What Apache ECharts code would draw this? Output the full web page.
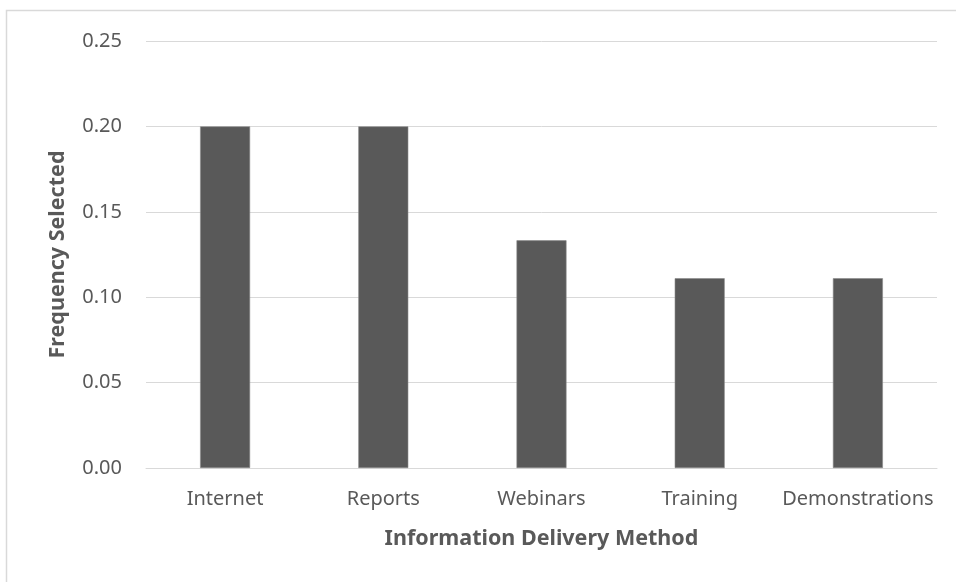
<!DOCTYPE html>
<html>
<head>
<meta charset="utf-8">
<script src="https://cdn.jsdelivr.net/npm/echarts@6/dist/echarts.min.js"></script>
<style>
html,body{margin:0;padding:0;background:#fff;}
#chart{width:956px;height:582px;}
</style>
</head>
<body>
<div id="chart"></div>
<script>
var categories = ['Internet', 'Reports', 'Webinars', 'Training', 'Demonstrations'];
var frequencies = [0.2, 0.2, 0.1333, 0.1111, 0.1111];
var yTicks = [0, 0.05, 0.10, 0.15, 0.20, 0.25];
var xTitle = 'Information Delivery Method';
var yTitle = 'Frequency Selected';

var FONT = 'Noto Sans';
var chart = echarts.init(document.getElementById('chart'));
chart.setOption({
  backgroundColor: '#ffffff',
  animation: false,
  graphic: [{
    type: 'rect',
    shape: {x: 6.5, y: 10.5, width: 1200, height: 1200},
    style: {fill: 'none', stroke: '#d9d9d9', lineWidth: 1.5},
    silent: true
  }],
  grid: {left: 146, right: 19, top: 41, bottom: 114},
  xAxis: {
    type: 'category',
    data: categories,
    name: xTitle,
    nameLocation: 'middle',
    nameGap: 60,
    nameTextStyle: {fontFamily: FONT, fontSize: 21.5, fontWeight: 'bold', color: '#595959'},
    axisLine: {show: true, lineStyle: {color: '#d9d9d9', width: 1}},
    axisTick: {show: false},
    axisLabel: {fontFamily: FONT, fontSize: 20, color: '#595959', margin: 21, interval: 0},
    splitLine: {show: false}
  },
  yAxis: {
    type: 'value',
    min: yTicks[0],
    max: yTicks[yTicks.length - 1],
    interval: 0.05,
    name: yTitle,
    nameLocation: 'middle',
    nameGap: 77,
    nameTextStyle: {fontFamily: FONT, fontSize: 21.5, fontWeight: 'bold', color: '#595959'},
    axisLine: {show: false},
    axisTick: {show: false},
    axisLabel: {
      fontFamily: FONT, fontSize: 20, color: '#595959', margin: 24,
      formatter: function (v) { return v.toFixed(2); }
    },
    splitLine: {show: true, lineStyle: {color: '#d9d9d9', width: 1}}
  },
  series: [{
    type: 'bar',
    data: frequencies,
    barWidth: '31.6%',
    itemStyle: {color: '#595959', borderColor: '#8a8a8a', borderWidth: 0.6}
  }]
});
</script>
</body>
</html>
